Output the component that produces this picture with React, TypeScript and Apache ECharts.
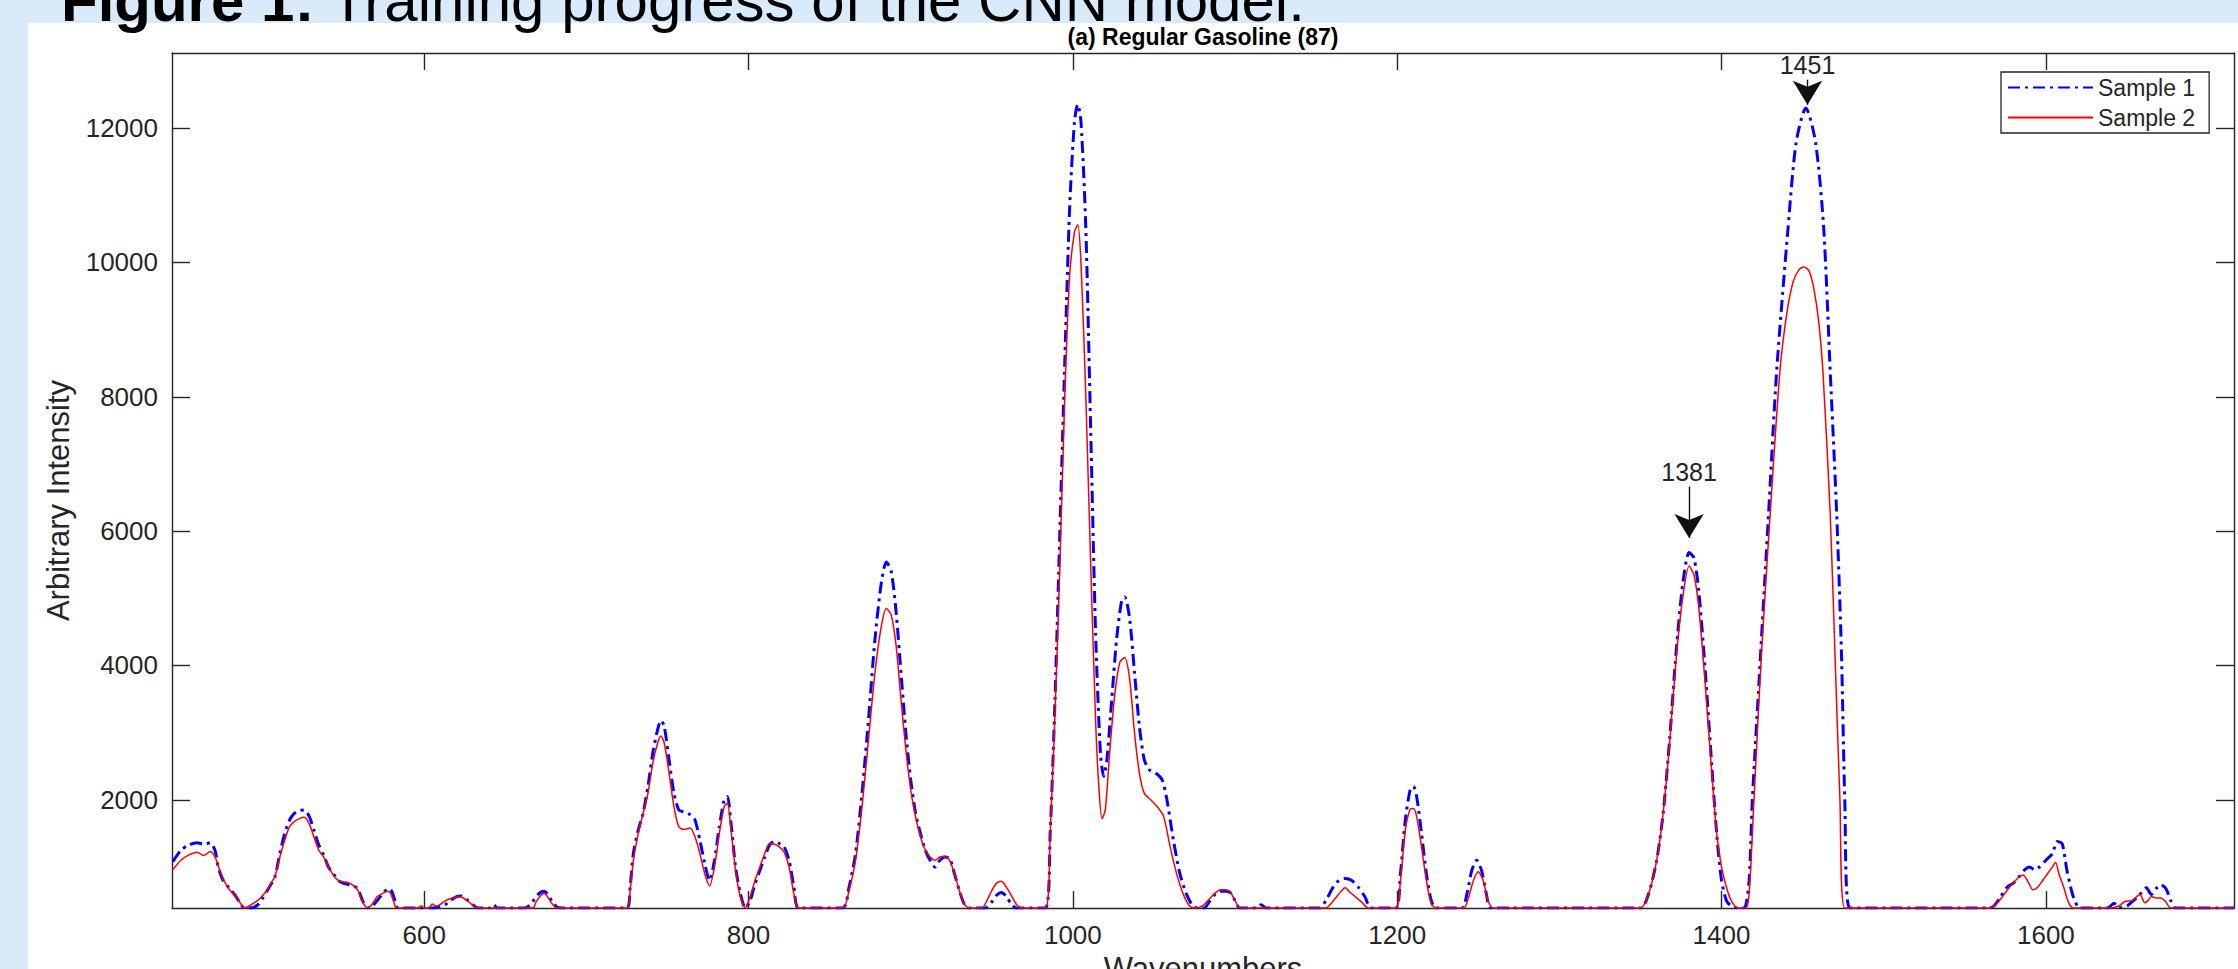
import React, { useEffect, useRef } from 'react';
import * as echarts from 'echarts';

const FONT = '"Liberation Sans", Arial, Helvetica, sans-serif';
const TEXT = '#262626';

const xTicks = [600, 800, 1000, 1200, 1400, 1600];
const yTicks = [2000, 4000, 6000, 8000, 10000, 12000];
const X_MIN = 444.5;
const X_MAX = 1716;
const Y_MIN = 390;
const Y_MAX = 13117;

const sample1Wavenumber = [
  445, 450, 455, 460, 464, 468, 471, 473, 476, 480, 484, 487, 489, 493, 497, 500, 504, 508, 511, 514,
  517, 520, 523, 526, 529, 532, 535, 538, 541, 544, 547, 550, 553, 556, 559, 562, 565, 568, 571, 575,
  578, 580, 582, 584, 606, 610, 613, 616, 620, 623, 626, 630, 633, 641, 643, 645, 662, 665, 668, 671,
  674, 676, 679, 682, 685, 725, 727, 729, 732, 735, 738, 741, 744, 746, 748, 751, 754, 757, 760, 764,
  767, 770, 773, 776, 779, 782, 785, 787, 789, 792, 795, 798, 801, 804, 807, 810, 813, 816, 819, 822,
  825, 828, 831, 858, 862, 866, 870, 874, 878, 882, 885, 888, 891, 894, 897, 900, 903, 906, 909, 912,
  915, 918, 921, 924, 927, 930, 933, 936, 946, 950, 953, 956, 959, 962, 965, 983, 986, 989, 992, 995,
  998, 1001, 1003, 1005, 1008, 1011, 1014, 1017, 1019, 1021, 1024, 1027, 1030, 1032, 1035, 1038, 1041, 1044, 1047, 1051,
  1055, 1058, 1062, 1066, 1070, 1074, 1077, 1081, 1084, 1088, 1091, 1094, 1097, 1100, 1103, 1113, 1116, 1119, 1152, 1156,
  1160, 1164, 1168, 1172, 1176, 1180, 1184, 1199, 1202, 1205, 1208, 1210, 1212, 1215, 1218, 1221, 1224, 1240, 1243, 1246,
  1249, 1252, 1255, 1258, 1350, 1355, 1360, 1364, 1368, 1372, 1376, 1380, 1383, 1386, 1390, 1394, 1397, 1400, 1403, 1406,
  1410, 1414, 1417, 1419, 1424, 1429, 1434, 1441, 1446, 1452, 1458, 1463, 1467, 1471, 1474, 1476, 1479, 1565, 1568, 1572,
  1576, 1580, 1584, 1587, 1590, 1593, 1596, 1600, 1604, 1607, 1610, 1613, 1617, 1621, 1638, 1642, 1645, 1650, 1653, 1656,
  1659, 1662, 1665, 1668, 1671, 1674, 1677, 1680, 1716,
];
const sample1Intensity = [
  1080, 1250, 1330, 1360, 1340, 1360, 1250, 1000, 800, 680, 560, 440, 390, 390, 430, 520, 680, 860, 1200, 1500,
  1700, 1800, 1840, 1850, 1760, 1550, 1330, 1180, 1000, 900, 800, 760, 740, 720, 680, 500, 390, 420, 500, 620,
  680, 640, 500, 390, 390, 420, 440, 500, 560, 570, 520, 440, 390, 390, 440, 390, 390, 430, 520, 610,
  640, 600, 480, 400, 390, 390, 700, 1200, 1550, 1800, 2200, 2700, 3050, 3180, 3100, 2600, 2100, 1850, 1820, 1780,
  1700, 1400, 1050, 800, 1100, 1600, 2000, 2050, 1700, 1000, 600, 390, 500, 750, 950, 1150, 1330, 1380, 1350, 1300,
  1100, 700, 390, 390, 700, 1200, 2100, 3200, 4400, 5250, 5540, 5400, 4800, 3900, 3000, 2300, 1800, 1500, 1250, 1100,
  1000, 1100, 1150, 1130, 900, 650, 450, 390, 390, 480, 580, 620, 560, 450, 390, 390, 1500, 3500, 6000, 8500,
  10800, 12100, 12350, 12100, 10500, 7500, 4500, 2700, 2350, 2600, 3500, 4400, 4950, 5020, 4700, 3900, 3100, 2600, 2450, 2400,
  2300, 2000, 1400, 900, 600, 420, 390, 390, 480, 600, 640, 640, 620, 500, 390, 390, 440, 390, 390, 500,
  680, 800, 830, 800, 700, 560, 390, 390, 900, 1700, 2150, 2200, 2050, 1500, 900, 500, 390, 390, 600, 950,
  1100, 950, 600, 390, 390, 600, 1100, 1800, 2900, 4200, 5200, 5680, 5600, 5100, 3900, 2500, 1500, 800, 500, 420,
  390, 390, 800, 2000, 4135, 6260, 8385, 10510, 11785, 12300, 11785, 10510, 8385, 6260, 4135, 2000, 390, 390, 420, 550,
  700, 760, 870, 960, 1000, 960, 1000, 1100, 1200, 1380, 1350, 950, 550, 390, 390, 460, 390, 420, 480, 540,
  620, 690, 590, 680, 735, 680, 500, 390, 390,
];

const sample2Wavenumber = [
  445, 450, 455, 460, 464, 468, 471, 474, 477, 480, 484, 487, 489, 492, 496, 499, 503, 506, 508, 511,
  514, 517, 520, 523, 526, 529, 532, 535, 538, 541, 544, 547, 550, 553, 556, 559, 562, 565, 568, 571,
  574, 577, 579, 581, 583, 596, 598, 600, 603, 605, 607, 609, 612, 615, 619, 622, 626, 630, 633, 667,
  669, 672, 674, 676, 679, 682, 725, 727, 729, 732, 735, 738, 741, 744, 746, 748, 751, 754, 757, 760,
  764, 767, 770, 773, 776, 779, 782, 785, 787, 789, 792, 795, 798, 801, 804, 807, 810, 813, 816, 819,
  822, 825, 828, 831, 858, 862, 866, 870, 874, 878, 882, 885, 888, 891, 894, 897, 900, 903, 906, 909,
  912, 915, 918, 921, 924, 927, 930, 933, 936, 944, 947, 950, 953, 956, 959, 962, 965, 968, 983, 986,
  989, 992, 995, 998, 1001, 1003, 1005, 1008, 1011, 1014, 1016, 1018, 1020, 1023, 1026, 1029, 1032, 1035, 1038, 1041,
  1044, 1048, 1052, 1056, 1060, 1064, 1068, 1072, 1075, 1080, 1084, 1088, 1091, 1094, 1097, 1100, 1103, 1156, 1160, 1164,
  1168, 1171, 1174, 1178, 1182, 1199, 1202, 1205, 1208, 1210, 1212, 1215, 1218, 1221, 1224, 1241, 1244, 1247, 1250, 1253,
  1256, 1259, 1350, 1355, 1360, 1364, 1368, 1372, 1376, 1380, 1383, 1386, 1390, 1394, 1397, 1400, 1403, 1406, 1410, 1415,
  1417, 1420, 1424.5, 1430, 1436, 1440, 1444, 1448, 1451, 1454, 1457, 1460, 1462.5, 1467, 1470, 1473, 1476,
  1565, 1568, 1572, 1576, 1579, 1583, 1586, 1589, 1592, 1595, 1598, 1601, 1604, 1606, 1608, 1611, 1614, 1617,
  1640, 1645, 1649, 1653, 1656, 1658, 1661, 1663, 1665, 1668, 1671, 1674, 1677, 1716,
];
const sample2Intensity = [
  960, 1100, 1180, 1220, 1170, 1230, 1150, 950, 780, 660, 560, 450, 390, 420, 480, 540, 650, 780, 860, 1150,
  1400, 1600, 1680, 1720, 1740, 1650, 1450, 1250, 1150, 1000, 880, 800, 780, 770, 730, 660, 480, 390, 450, 560,
  600, 640, 620, 500, 390, 390, 420, 390, 390, 450, 420, 430, 480, 520, 550, 560, 510, 430, 390, 390,
  480, 580, 610, 560, 450, 390, 390, 650, 1100, 1500, 1800, 2100, 2550, 2850, 2950, 2850, 2400, 1900, 1600, 1560,
  1580, 1450, 1200, 900, 720, 1000, 1500, 1900, 1950, 1600, 950, 550, 390, 560, 800, 1000, 1200, 1350, 1340, 1300,
  1220, 1000, 600, 390, 390, 650, 1100, 1900, 2900, 3900, 4600, 4850, 4750, 4300, 3500, 2750, 2150, 1750, 1450, 1250,
  1150, 1100, 1150, 1160, 1100, 900, 650, 450, 390, 390, 500, 650, 760, 790, 700, 580, 450, 390, 390, 1500,
  3300, 5500, 8000, 9800, 10450, 10560, 10000, 8000, 5500, 3200, 2200, 1720, 1850, 2800, 3600, 4050, 4120, 3800, 3000, 2400,
  2100, 2000, 1900, 1750, 1300, 900, 600, 420, 390, 420, 520, 620, 660, 660, 630, 500, 390, 390, 480, 600,
  690, 620, 560, 480, 390, 390, 800, 1550, 1860, 1870, 1750, 1300, 800, 450, 390, 390, 550, 800, 930, 800,
  500, 390, 390, 600, 1100, 1800, 2850, 4100, 5000, 5480, 5350, 4850, 3700, 2400, 1500, 1000, 700, 500, 390, 390,
  600, 2000, 4135, 6260, 8385, 9200, 9700, 9900, 9930, 9870, 9600, 9100, 8385, 6260, 4135, 2000, 390,
  390, 420, 520, 650, 740, 840, 880, 780, 660, 700, 800, 900, 1000, 1070, 900, 700, 470, 390,
  390, 420, 490, 500, 560, 590, 470, 500, 560, 540, 540, 480, 390, 390,
];

const peakLabels = ['1381', '1451'];
const peakArrowX = [1380, 1453];
const peakArrowTop = [6664, 12719];
const peakArrowTip = [5896, 12347];

function pairs(xs: number[], ys: number[]) {
  return xs.map((x, i) => [x, ys[i]]);
}

export default function App() {
  const ref = useRef<HTMLDivElement>(null);
  useEffect(() => {
    if (!ref.current) return;
    const chart = echarts.init(ref.current, undefined, { renderer: 'svg' });
    const axisLineStyle = { color: TEXT, width: 1.4 };
    const labelStyle = { fontSize: 26, color: TEXT, fontFamily: FONT };
    const plain = (v: number) => String(v);
    const option: any = {
      animation: false,
      backgroundColor: '#D9EAFB',
      textStyle: { fontFamily: FONT },
      graphic: [
        {
          type: 'rect',
          z: -10,
          shape: { x: 28, y: 23, width: 2238 - 28, height: 969 - 23 },
          style: { fill: '#ffffff' },
          silent: true,
        },
        {
          type: 'text',
          left: 61,
          top: -30,
          style: {
            text: '{b|Figure 1:} Training progress of the CNN model.',
            fontSize: 60,
            lineHeight: 38,
            fontFamily: FONT,
            fill: '#000',
            rich: { b: { fontWeight: 'bold', fontSize: 60, lineHeight: 38, fontFamily: FONT, fill: '#000' } },
          },
        },
      ],
      title: {
        text: '(a) Regular Gasoline (87)',
        left: 1203,
        textAlign: 'center',
        top: 25,
        padding: 0,
        textStyle: { fontSize: 23, fontWeight: 'bold', color: '#000', fontFamily: FONT },
      },
      legend: {
        orient: 'vertical',
        left: 2001,
        top: 72,
        itemWidth: 85,
        itemHeight: 14,
        itemGap: 7,
        padding: [4, 14, 4, 6],
        borderColor: TEXT,
        borderWidth: 1.3,
        backgroundColor: '#fff',
        borderRadius: 0,
        itemStyle: { opacity: 0 },
        textStyle: { fontSize: 23, color: TEXT, fontFamily: FONT, lineHeight: 22 },
        data: ['Sample 1', 'Sample 2'],
      },
      grid: {
        left: 172,
        top: 53,
        right: 4,
        bottom: 61,
        containLabel: false,
        outerBoundsMode: 'none',
      },
      xAxis: [
        {
          type: 'value',
          min: X_MIN,
          max: X_MAX,
          position: 'bottom',
          axisLine: { show: true, onZero: false, lineStyle: axisLineStyle },
          axisTick: { show: true, inside: true, length: 17, customValues: xTicks, lineStyle: axisLineStyle },
          axisLabel: { show: true, customValues: xTicks, margin: 14, formatter: plain, ...labelStyle },
          splitLine: { show: false },
          name: 'Wavenumbers',
          nameLocation: 'middle',
          nameGap: 44,
          nameTextStyle: { fontSize: 31, color: TEXT, fontFamily: FONT },
        },
        {
          type: 'value',
          min: X_MIN,
          max: X_MAX,
          position: 'top',
          axisLine: { show: true, onZero: false, lineStyle: axisLineStyle },
          axisTick: { show: true, inside: true, length: 17, customValues: xTicks, lineStyle: axisLineStyle },
          axisLabel: { show: false },
          splitLine: { show: false },
        },
      ],
      yAxis: [
        {
          type: 'value',
          min: Y_MIN,
          max: Y_MAX,
          position: 'left',
          axisLine: { show: true, onZero: false, lineStyle: axisLineStyle },
          axisTick: { show: true, inside: true, length: 18, customValues: yTicks, lineStyle: axisLineStyle },
          axisLabel: { show: true, customValues: yTicks, margin: 14, formatter: plain, ...labelStyle },
          splitLine: { show: false },
          name: 'Arbitrary Intensity',
          nameLocation: 'middle',
          nameGap: 98,
          nameRotate: 90,
          nameTextStyle: { fontSize: 31, color: TEXT, fontFamily: FONT, padding: [0, 40, 0, 0] },
        },
        {
          type: 'value',
          min: Y_MIN,
          max: Y_MAX,
          position: 'right',
          axisLine: { show: true, onZero: false, lineStyle: axisLineStyle },
          axisTick: { show: true, inside: true, length: 18, customValues: yTicks, lineStyle: axisLineStyle },
          axisLabel: { show: false },
          splitLine: { show: false },
        },
      ],
      series: [
        {
          name: 'Sample 1',
          type: 'line',
          xAxisIndex: 0,
          yAxisIndex: 0,
          data: pairs(sample1Wavenumber, sample1Intensity),
          showSymbol: false,
          symbol: 'none',
          smooth: 0.25,
          lineStyle: { color: '#0000FF', width: 3, type: [12, 5, 3, 5] },
          itemStyle: { color: '#0000FF' },
          z: 2,
          markLine: {
            silent: true,
            symbol: ['none', 'arrow'],
            symbolSize: [22, 24],
            lineStyle: { color: '#111', width: 1.4, type: 'solid' },
            label: {
              show: true,
              position: 'start',
              formatter: '{b}',
              fontSize: 25,
              color: TEXT,
              fontFamily: FONT,
              distance: 2,
            },
            data: peakLabels.map((name, i) => [
              { name, coord: [peakArrowX[i], peakArrowTop[i]] },
              { coord: [peakArrowX[i], peakArrowTip[i]] },
            ]),
          },
        },
        {
          name: 'Sample 2',
          type: 'line',
          xAxisIndex: 0,
          yAxisIndex: 0,
          data: pairs(sample2Wavenumber, sample2Intensity),
          showSymbol: false,
          symbol: 'none',
          smooth: 0.25,
          lineStyle: { color: '#FF0000', width: 1.5, type: 'solid' },
          itemStyle: { color: '#FF0000' },
          z: 3,
        },
      ],
    };
    chart.setOption(option);
    return () => chart.dispose();
  }, []);
  return (
    <div
      ref={ref}
      style={{ position: 'fixed', left: 0, top: 0, width: 2238, height: 969 }}
    />
  );
}
